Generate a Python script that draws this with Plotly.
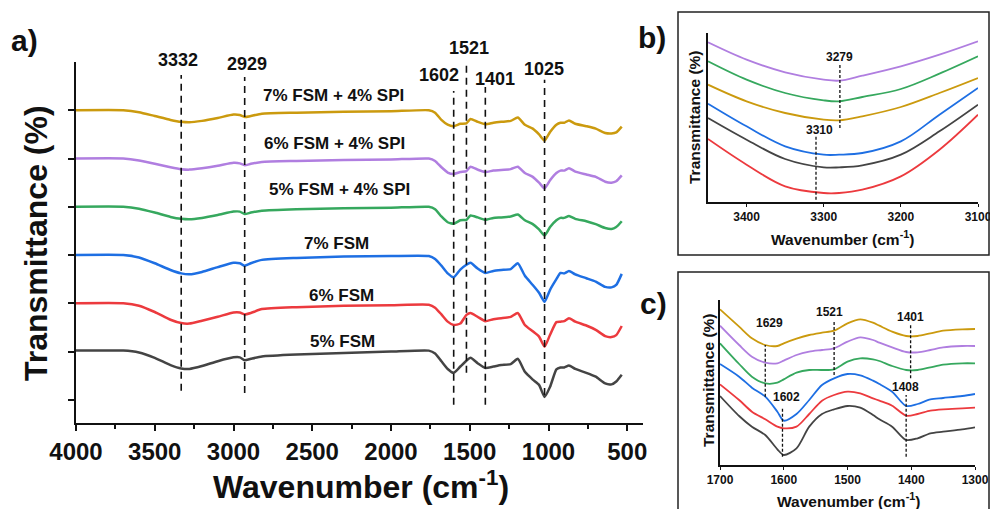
import plotly.graph_objects as go

# ---------------- Panel a data (wavenumber, relative transmittance) ----------------
WN_A = [4000, 3700, 3600, 3500, 3400, 3332, 3280, 3200, 3100, 3000, 2960, 2929, 2890, 2820,
        2600, 2300, 2000, 1760, 1720, 1680, 1640, 1602, 1560, 1521, 1495, 1450, 1401, 1350,
        1300, 1240, 1195, 1150, 1100, 1060, 1025, 990, 950, 924, 900, 870, 830, 760, 700,
        640, 600, 570, 535]

A_5FSM = [0.02, 0.02, -0.02, -0.13, -0.28, -0.35, -0.36, -0.30, -0.20, -0.12, -0.12, -0.18, -0.15, -0.10,
          -0.06, -0.03, 0.00, 0.02, -0.04, -0.20, -0.36, -0.44, -0.31, -0.19, -0.13, -0.24, -0.34, -0.31,
          -0.28, -0.26, -0.15, -0.42, -0.58, -0.69, -0.94, -0.73, -0.37, -0.33, -0.33, -0.29, -0.36, -0.44,
          -0.52, -0.66, -0.68, -0.62, -0.48]
A_6FSM = [0.00, 0.00, -0.05, -0.18, -0.34, -0.41, -0.42, -0.36, -0.28, -0.19, -0.19, -0.23, -0.20, -0.12,
          -0.08, -0.05, -0.04, -0.03, -0.09, -0.23, -0.38, -0.45, -0.42, -0.24, -0.20, -0.28, -0.37, -0.33,
          -0.31, -0.28, -0.20, -0.45, -0.58, -0.69, -0.90, -0.65, -0.39, -0.38, -0.37, -0.31, -0.38, -0.46,
          -0.55, -0.68, -0.70, -0.66, -0.47]
A_7FSM = [0.00, 0.00, -0.05, -0.17, -0.31, -0.38, -0.40, -0.35, -0.25, -0.16, -0.17, -0.22, -0.17, -0.10,
          -0.06, -0.03, -0.02, -0.02, -0.08, -0.22, -0.38, -0.46, -0.30, -0.20, -0.16, -0.28, -0.37, -0.33,
          -0.31, -0.29, -0.17, -0.43, -0.62, -0.78, -0.97, -0.72, -0.50, -0.37, -0.38, -0.33, -0.40, -0.48,
          -0.55, -0.66, -0.67, -0.62, -0.39]
A_5SPI = [0.00, 0.00, -0.04, -0.12, -0.21, -0.25, -0.26, -0.23, -0.17, -0.10, -0.10, -0.15, -0.12, -0.08,
          -0.05, -0.03, -0.02, 0.00, -0.05, -0.20, -0.32, -0.35, -0.28, -0.27, -0.18, -0.22, -0.27, -0.23,
          -0.22, -0.20, -0.16, -0.28, -0.36, -0.47, -0.60, -0.42, -0.28, -0.23, -0.23, -0.19, -0.25, -0.30,
          -0.36, -0.44, -0.46, -0.42, -0.30]
A_6SPI = [0.00, 0.00, -0.04, -0.11, -0.18, -0.22, -0.23, -0.20, -0.15, -0.09, -0.10, -0.14, -0.11, -0.07,
          -0.05, -0.03, -0.02, 0.00, -0.05, -0.18, -0.29, -0.32, -0.28, -0.26, -0.17, -0.23, -0.28, -0.25,
          -0.24, -0.22, -0.17, -0.30, -0.38, -0.50, -0.62, -0.45, -0.30, -0.25, -0.25, -0.20, -0.27, -0.33,
          -0.38, -0.48, -0.50, -0.47, -0.35]
A_7SPI = [0.00, 0.00, -0.04, -0.12, -0.20, -0.24, -0.25, -0.22, -0.16, -0.09, -0.10, -0.14, -0.12, -0.07,
          -0.05, -0.03, -0.02, 0.00, -0.05, -0.20, -0.30, -0.33, -0.28, -0.27, -0.18, -0.24, -0.29, -0.26,
          -0.24, -0.22, -0.15, -0.30, -0.38, -0.50, -0.63, -0.45, -0.30, -0.26, -0.26, -0.21, -0.28, -0.33,
          -0.38, -0.47, -0.48, -0.46, -0.34]

SERIES_NAMES = ["5% FSM", "6% FSM", "7% FSM", "5% FSM + 4% SPI", "6% FSM + 4% SPI", "7% FSM + 4% SPI"]
SERIES_COLORS = ["#444444", "#EC3A3E", "#1E6FE3", "#36A85E", "#B07EE0", "#CB9A0E"]
OFFSETS_A = [1, 2, 3, 4, 5, 6]
A_SERIES = [A_5FSM, A_6FSM, A_7FSM, A_5SPI, A_6SPI, A_7SPI]
A_NAME_X = [2311, 2317, 2343, 2324, 2356, 2368]
A_NAME_Y = [1.20, 2.17, 3.23, 4.35, 5.32, 6.31]

A_PEAKS = [3332, 2929, 1602, 1521, 1401, 1025]
A_PEAK_TOP = [6.73, 6.69, 6.40, 7.08, 6.48, 6.63]
A_PEAK_BOTTOM = [0.19, 0.14, -0.10, 0.56, -0.10, 0.10]
A_PEAK_TX = [3352, 2916, 1695, 1505, 1340, 1029]
A_PEAK_TY = [7.05, 6.96, 6.74, 7.28, 6.65, 6.85]
A_XTICKS = [4000, 3500, 3000, 2500, 2000, 1500, 1000, 500]

# ---------------- Panel b data ----------------
WN_B = [3450, 3400, 3350, 3300, 3280, 3250, 3200, 3150, 3100]
B_5FSM = [25.5, 19.0, 13.2, 10.7, 10.7, 11.3, 14.5, 21.5, 29.5]
B_6FSM = [19.2, 11.5, 5.0, 3.0, 3.0, 4.0, 8.0, 16.0, 26.5]
B_7FSM = [29.8, 23.0, 17.0, 14.5, 14.5, 15.0, 18.5, 26.5, 34.5]
B_5SPI = [42.5, 37.0, 33.0, 30.8, 30.5, 31.8, 34.2, 38.8, 44.0]
B_6SPI = [48.2, 43.0, 39.2, 37.0, 36.7, 38.2, 41.0, 44.5, 48.5]
B_7SPI = [35.5, 30.5, 27.0, 25.0, 24.8, 26.0, 28.8, 33.0, 37.5]
B_SERIES = [B_5FSM, B_6FSM, B_7FSM, B_5SPI, B_6SPI, B_7SPI]
B_PEAKS = [3279, 3310]
B_PEAK_TOP = [41.5, 20.5]
B_PEAK_BOTTOM = [22.5, 1.0]
B_PEAK_TX = [3279, 3306]
B_PEAK_TY = [43.8, 21.8]
B_XTICKS = [3400, 3300, 3200, 3100]

# ---------------- Panel c data ----------------
WN_C = [1700, 1670, 1650, 1629, 1610, 1600, 1580, 1560, 1540, 1521, 1500, 1480, 1460, 1450,
        1430, 1408, 1390, 1370, 1350, 1320, 1300]
C_5FSM = [21.2, 15.2, 12.0, 9.5, 5.2, 3.5, 5.5, 12.0, 15.8, 17.2, 18.2, 17.7, 15.5, 14.2,
          12.0, 8.0, 8.5, 10.0, 10.5, 11.2, 11.8]
C_6FSM = [24.7, 20.0, 16.5, 14.2, 12.0, 11.5, 12.0, 15.8, 19.8, 21.5, 22.5, 22.0, 20.5, 19.8,
          18.3, 15.3, 15.8, 16.8, 17.2, 17.5, 17.7]
C_7FSM = [30.8, 27.0, 23.7, 21.0, 16.5, 13.8, 15.8, 20.0, 24.5, 26.5, 27.8, 27.4, 25.8, 24.8,
          22.5, 18.2, 18.8, 20.2, 20.6, 21.2, 21.8]
C_5SPI = [37.0, 30.8, 27.0, 25.0, 25.2, 26.2, 28.2, 29.0, 29.0, 29.2, 31.5, 32.5, 32.2, 31.7,
          30.2, 29.0, 29.0, 29.8, 30.6, 31.0, 31.0]
C_6SPI = [42.3, 36.5, 33.0, 31.2, 31.0, 31.8, 33.5, 34.5, 35.0, 35.5, 37.5, 38.8, 38.0, 37.2,
          35.8, 34.4, 34.3, 35.0, 35.8, 36.2, 36.2]
C_7SPI = [47.2, 42.0, 38.5, 36.5, 36.2, 37.0, 38.4, 39.5, 40.2, 40.8, 43.0, 44.2, 43.2, 42.3,
          40.5, 39.2, 39.2, 40.0, 40.8, 41.2, 41.3]
C_SERIES = [C_5FSM, C_6FSM, C_7FSM, C_5SPI, C_6SPI, C_7SPI]
C_PEAKS = [1629, 1602, 1521, 1401, 1408]
C_PEAK_TOP = [36.5, 17.5, 44.0, 42.5, 21.5]
C_PEAK_BOTTOM = [21.0, 3.0, 27.5, 26.5, 3.0]
C_PEAK_TX = [1622, 1595, 1528, 1401, 1409]
C_PEAK_TY = [43.2, 20.8, 46.3, 45.0, 24.0]
C_XTICKS = [1700, 1600, 1500, 1400, 1300]

FONT = "Liberation Sans, Arial, sans-serif"
W, H = 990, 509


def px(xp):
    return xp / W


def py(yp):
    return 1 - yp / H


# axis placements (pixels of the 990x509 canvas)
A_XDOM = [px(76), px(643)]
A_YDOM = [py(423), py(62)]
A_YRANGE = [-0.48, 7.0]


def a_y_to_paper(v):
    return A_YDOM[0] + (v - A_YRANGE[0]) / (A_YRANGE[1] - A_YRANGE[0]) * (A_YDOM[1] - A_YDOM[0])


fig = go.Figure()

for name, color, off, vals in zip(SERIES_NAMES, SERIES_COLORS, OFFSETS_A, A_SERIES):
    fig.add_trace(go.Scatter(x=WN_A, y=[off + v for v in vals], mode="lines", name=name,
                             line=dict(color=color, width=2.5, shape="spline", smoothing=0.5),
                             xaxis="x", yaxis="y", showlegend=False))
for name, color, vals in zip(SERIES_NAMES, SERIES_COLORS, B_SERIES):
    fig.add_trace(go.Scatter(x=WN_B, y=vals, mode="lines", name=name,
                             line=dict(color=color, width=1.8, shape="spline", smoothing=1.0),
                             xaxis="x2", yaxis="y2", showlegend=False))
for name, color, vals in zip(SERIES_NAMES, SERIES_COLORS, C_SERIES):
    fig.add_trace(go.Scatter(x=WN_C, y=vals, mode="lines", name=name,
                             line=dict(color=color, width=1.8, shape="spline", smoothing=0.8),
                             xaxis="x3", yaxis="y3", showlegend=False))

annotations = []
shapes = []

for xr, yr, peaks, tops, bots, txs, tys, fs, dash, lw in [
    ("x", "y", A_PEAKS, A_PEAK_TOP, A_PEAK_BOTTOM, A_PEAK_TX, A_PEAK_TY, 18, "7px,5px", 1.6),
    ("x2", "y2", B_PEAKS, B_PEAK_TOP, B_PEAK_BOTTOM, B_PEAK_TX, B_PEAK_TY, 12, "3px,2px", 1.3),
    ("x3", "y3", C_PEAKS, C_PEAK_TOP, C_PEAK_BOTTOM, C_PEAK_TX, C_PEAK_TY, 12, "3px,2px", 1.3),
]:
    for p, t, b, tx, ty in zip(peaks, tops, bots, txs, tys):
        shapes.append(dict(type="line", xref=xr, yref=yr, x0=p, x1=p, y0=b, y1=t,
                           line=dict(color="#111111", width=lw, dash=dash)))
        if yr == "y":
            ann_yref, ann_y = "paper", a_y_to_paper(ty)
        else:
            ann_yref, ann_y = yr, ty
        annotations.append(dict(xref=xr, yref=ann_yref, x=tx, y=ann_y, text=f"<b>{p}</b>", showarrow=False,
                                xanchor="center", yanchor="middle",
                                font=dict(family=FONT, size=fs, color="#111111")))

for name, nx, ny in zip(SERIES_NAMES, A_NAME_X, A_NAME_Y):
    annotations.append(dict(xref="x", yref="y", x=nx, y=ny, text=f"<b>{name}</b>", showarrow=False,
                            font=dict(family=FONT, size=17, color="#111111")))

for text, x, y, size, angle in [
    ("<b>Wavenumber (cm<sup>-1</sup>)</b>", 361, 485, 32, 0),
    ("<b>Transmittance (%)</b>", 36, 243, 32, -90),
    ("<b>Wavenumber (cm<sup>-1</sup>)</b>", 842, 238, 15.5, 0),
    ("<b>Transmittance (%)</b>", 695, 117, 15.5, -90),
    ("<b>Wavenumber (cm<sup>-1</sup>)</b>", 848, 500, 15.5, 0),
    ("<b>Transmittance (%)</b>", 708, 380, 15.5, -90),
    ("<b>a)</b>", 24, 40, 30, 0),
    ("<b>b)</b>", 652, 37, 30, 0),
    ("<b>c)</b>", 653, 303, 30, 0),
]:
    annotations.append(dict(xref="paper", yref="paper", x=px(x), y=py(y), text=text, showarrow=False,
                            textangle=angle, xanchor="center", yanchor="middle",
                            font=dict(family=FONT, size=size, color="#111111")))

shapes.append(dict(type="rect", xref="paper", yref="paper", x0=px(678), x1=px(989), y0=py(255), y1=py(12),
                   line=dict(color="#222222", width=1.5)))
shapes.append(dict(type="rect", xref="paper", yref="paper", x0=px(678), x1=px(989), y0=py(520), y1=py(272),
                   line=dict(color="#222222", width=1.5)))

axis_common = dict(showgrid=False, zeroline=False, showline=True, linecolor="#111111", mirror=False,
                   automargin=False)

fig.update_layout(
    width=W, height=H, margin=dict(l=0, r=0, t=0, b=0, pad=0, autoexpand=False),
    paper_bgcolor="white", plot_bgcolor="white", showlegend=False,
    font=dict(family=FONT, color="#111111"),
    xaxis=dict(domain=A_XDOM, range=[4000, 400], anchor="y", tickvals=A_XTICKS,
               ticktext=[f"<b>{v}</b>" for v in A_XTICKS], ticks="outside", ticklen=6, tickwidth=2,
               tickcolor="#111111", linewidth=2, tickfont=dict(size=24, family=FONT, color="#111111"),
               minor=dict(tick0=0, dtick=250, ticks="outside", ticklen=4, tickwidth=2, tickcolor="#111111"),
               ticklabeloverflow="allow", **axis_common),
    yaxis=dict(domain=A_YDOM, range=A_YRANGE, anchor="x", tickvals=[0, 1, 2, 3, 4, 5, 6],
               showticklabels=False, ticks="outside", ticklen=6, tickwidth=2, tickcolor="#111111",
               linewidth=2, **axis_common),
    xaxis2=dict(domain=[px(708), px(978)], range=[3450, 3100], anchor="y2", tickvals=B_XTICKS,
                ticktext=[f"<b>{v}</b>" for v in B_XTICKS], ticks="outside", ticklen=3, tickwidth=1.2,
                tickcolor="#111111", linewidth=1.5, tickfont=dict(size=12, family=FONT, color="#111111"),
                ticklabeloverflow="allow", **axis_common),
    yaxis2=dict(domain=[py(202), py(33)], range=[0.3, 51], anchor="x2", showticklabels=False, ticks="",
                linewidth=1.5, **axis_common),
    xaxis3=dict(domain=[px(720), px(975)], range=[1700, 1300], anchor="y3", tickvals=C_XTICKS,
                ticktext=[f"<b>{v}</b>" for v in C_XTICKS], ticks="outside", ticklen=3, tickwidth=1.2,
                tickcolor="#111111", linewidth=1.5, tickfont=dict(size=12, family=FONT, color="#111111"),
                ticklabeloverflow="allow", **axis_common),
    yaxis3=dict(domain=[py(465), py(300)], range=[0.5, 50], anchor="x3", showticklabels=False, ticks="",
                linewidth=1.5, **axis_common),
    annotations=annotations,
    shapes=shapes,
)

fig.write_html("out.html", config={"displayModeBar": False},
               post_script="document.body.style.margin='0px';document.body.style.overflow='hidden';")
